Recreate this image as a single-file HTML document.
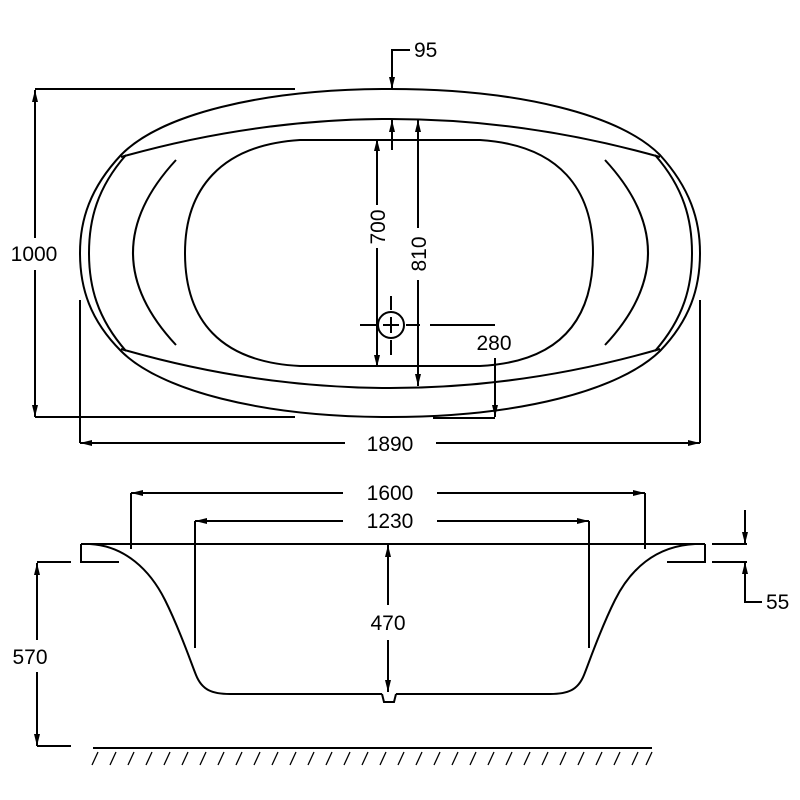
<!DOCTYPE html>
<html><head><style>html,body{margin:0;background:#fff}svg{display:block}</style></head><body>
<svg width="800" height="800" viewBox="0 0 800 800" xmlns="http://www.w3.org/2000/svg" font-family="Liberation Sans, sans-serif" font-size="21" fill="none" stroke="#000" stroke-width="2">
<defs>
<marker id="a" viewBox="0 0 12 6" refX="12" refY="3" markerWidth="12" markerHeight="6" markerUnits="userSpaceOnUse" orient="auto-start-reverse"><path d="M0,0 L12,3 L0,6Z" fill="#000" stroke="none"/></marker>
</defs>
<!-- TOP VIEW -->
<path d="M390,89 C260,89 160,115 121,155 C90,188 80,220 80,253 C80,288 90,320 121,351 C160,390 260,417 390,417 C520,417 620,390 660,351 C690,320 700,288 700,253 C700,220 690,188 660,155 C620,115 520,89 390,89Z"/>
<path d="M121,157 Q390,81 660,157"/>
<path d="M121,349 Q390,427 660,349"/>
<path d="M126,155 C97,188 89,220 89,253 C89,286 97,318 126,351"/>
<path d="M655,155 C684,188 692,220 692,253 C692,286 684,318 655,351"/>
<path d="M300,140 L480,140 C560,145 593,190 593,253 C593,320 560,362 480,366 L300,366 C220,362 185,320 185,253 C185,190 220,145 300,140Z"/>
<path d="M176,160 Q90,253 176,345"/>
<path d="M605,160 Q691,253 605,345"/>
<!-- dims top -->
<path d="M35,89 H295 M35,417 H295"/>
<path d="M35,90 V238 M35,270 V417" marker-start="url(#a)"/>
<path d="M35,270 V417" marker-end="url(#a)"/>
<path d="M80,300 V443 M700,300 V443"/>
<path d="M80,443 H345 M436,443 H700" marker-start="url(#a)"/>
<path d="M436,443 H700" marker-end="url(#a)"/>
<path d="M410,50 H392 V89" marker-end="url(#a)"/>
<path d="M392,150 V120" marker-end="url(#a)"/>
<path d="M377,139 V205 M377,248 V367" marker-start="url(#a)"/>
<path d="M377,248 V367" marker-end="url(#a)"/>
<path d="M418,120 V228 M418,280 V386" marker-start="url(#a)"/>
<path d="M418,280 V386" marker-end="url(#a)"/>
<circle cx="391" cy="325" r="13"/>
<path d="M383,325 H399 M391,317 V333 M360,325 H376 M406,325 H420 M391,296 V310 M391,340 V355 M430,325 H495"/>
<path d="M495,358 V417" marker-end="url(#a)"/>
<path d="M433,418 H495"/>
<!-- SIDE VIEW -->
<path d="M81,544 H705"/>
<path d="M81,544 V562 H119 M705,544 V562 H667"/>
<path d="M90,544 C125,546 150,570 165,600 C180,630 190,660 196,675 C202,690 212,694 230,694 C300,694 360,694 382,694 M396,694 C420,694 480,694 550,694 C568,694 578,690 584,675 C590,660 600,630 615,600 C630,570 655,546 695,544"/>
<path d="M382,694 L384,702 H394 L396,694"/>
<path d="M131,549 V493 M645,549 V493"/>
<path d="M131,493 H343 M437,493 H645" marker-start="url(#a)"/>
<path d="M437,493 H645" marker-end="url(#a)"/>
<path d="M195,648 V521 M589,648 V521"/>
<path d="M195,521 H343 M437,521 H589" marker-start="url(#a)"/>
<path d="M437,521 H589" marker-end="url(#a)"/>
<path d="M388,545 V605 M388,640 V692" marker-start="url(#a)"/>
<path d="M388,640 V692" marker-end="url(#a)"/>
<path d="M37,562 H71 M37,746 H71"/>
<path d="M37,563 V640 M37,672 V746" marker-start="url(#a)"/>
<path d="M37,672 V746" marker-end="url(#a)"/>
<path d="M93,748 H652"/>
<g stroke-width="1.3">
<path d="M98,752 l-6,13 M116,752 l-6,13 M134,752 l-6,13 M152,752 l-6,13 M170,752 l-6,13 M188,752 l-6,13 M206,752 l-6,13 M224,752 l-6,13 M242,752 l-6,13 M260,752 l-6,13 M278,752 l-6,13 M296,752 l-6,13 M314,752 l-6,13 M332,752 l-6,13 M350,752 l-6,13 M368,752 l-6,13 M386,752 l-6,13 M404,752 l-6,13 M422,752 l-6,13 M440,752 l-6,13 M458,752 l-6,13 M476,752 l-6,13 M494,752 l-6,13 M512,752 l-6,13 M530,752 l-6,13 M548,752 l-6,13 M566,752 l-6,13 M584,752 l-6,13 M602,752 l-6,13 M620,752 l-6,13 M638,752 l-6,13 M652,752 l-6,13"/>
</g>
<path d="M712,544 H747 M712,562 H747"/>
<path d="M745,510 V544" marker-end="url(#a)"/>
<path d="M745,600 V562" marker-end="url(#a)"/>
<path d="M745,600 V602 H762"/>
<!-- text -->
<g fill="#000" stroke="none" text-anchor="middle">
<text x="34" y="261">1000</text>
<text x="390" y="451">1890</text>
<text x="414" y="57" text-anchor="start">95</text>
<text x="494" y="350">280</text>
<text transform="translate(385,227) rotate(-90)">700</text>
<text transform="translate(426,254) rotate(-90)">810</text>
<text x="390" y="500">1600</text>
<text x="390" y="528">1230</text>
<text x="388" y="630">470</text>
<text x="30" y="664">570</text>
<text x="766" y="609" text-anchor="start">55</text>
</g>
</svg>
</body></html>
